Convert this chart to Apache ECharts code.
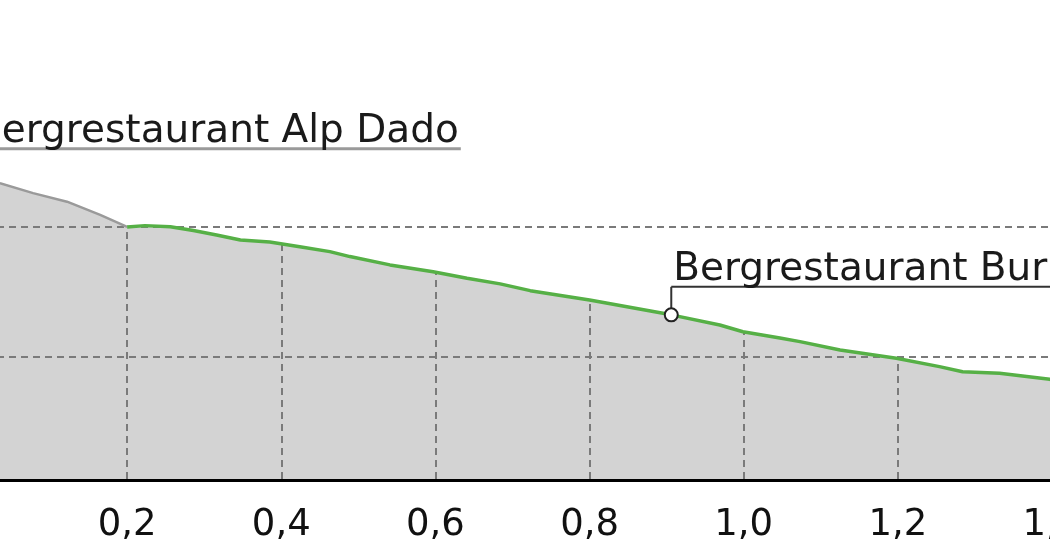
<!DOCTYPE html>
<html>
<head>
<meta charset="utf-8">
<title>Höhenprofil</title>
<script src="https://cdn.jsdelivr.net/npm/echarts@6/dist/echarts.min.js"></script>
<style>
html,body{margin:0;padding:0;background:#fff;}
#chart{width:1050px;height:560px;}
</style>
</head>
<body>
<div id="chart"></div>
<script>
// Distanz in km, Höhe in m
var distKm = [0, 0.035, 0.078, 0.122, 0.165, 0.2, 0.223, 0.256, 0.286, 0.316, 0.347, 0.385, 0.424, 0.463, 0.489, 0.541, 0.597, 0.641, 0.684, 0.723, 0.800, 0.906, 0.969, 0.999, 1.047, 1.073, 1.125, 1.198, 1.254, 1.284, 1.332, 1.397, 1.45];
var elevM  = [2020.4, 2016.8, 2013.0, 2009.7, 2004.6, 2000.0, 2000.5, 2000.1, 1998.6, 1996.9, 1995.0, 1994.2, 1992.4, 1990.5, 1988.6, 1985.4, 1982.8, 1980.3, 1978.1, 1975.5, 1971.9, 1966.2, 1962.3, 1959.7, 1957.3, 1955.9, 1952.7, 1949.5, 1946.3, 1944.3, 1943.7, 1941.4, 1939.5];
var routeStartKm = 0.2;

var poiNames = ['Bergrestaurant Alp Dado', 'Bergrestaurant Burleun'];
var poiDist  = [0, 0.906];
var poiElev  = [2020.4, 1966.2];

var xTicks = [0, 0.2, 0.4, 0.6, 0.8, 1.0, 1.2, 1.4];

var FONT = 'DejaVu Sans';
var GRID_LINE = {color: '#7a7a7a', width: 2, type: [7, 5]};

function pairs(filterFn){
    var out = [];
    for(var i=0;i<distKm.length;i++){
        if(filterFn(distKm[i])){
            out.push([distKm[i], elevM[i]]);
        }
    }
    return out;
}

var chart = echarts.init(document.getElementById('chart'));
var option = {
    animation: false,
    grid: {left: -27, right: -2, top: 100, bottom: 80, outerBoundsMode: 'none', containLabel: false},
    xAxis: {
        type: 'value',
        min: xTicks[0],
        max: xTicks[xTicks.length - 1],
        interval: 0.2,
        z: 1,
        axisLine: {show: true, lineStyle: {color: '#000', width: 3}},
        axisTick: {show: false},
        axisLabel: {
            margin: 27,
            fontFamily: FONT,
            fontSize: 37,
            color: '#111',
            showMinLabel: false,
            formatter: function(v){ return v.toFixed(1).replace('.', ','); }
        },
        splitLine: {show: true, showMinLine: false, showMaxLine: false, lineStyle: GRID_LINE}
    },
    yAxis: {
        type: 'value',
        min: 1902.7,
        max: 2048.8,
        splitNumber: 3,
        z: 3,
        axisLine: {show: false},
        axisTick: {show: false},
        axisLabel: {show: false},
        splitLine: {show: true, showMinLine: false, showMaxLine: false, lineStyle: GRID_LINE}
    },
    series: [
        {
            // graue Fläche unter dem Profil
            type: 'line',
            z: 0,
            data: pairs(function(){ return true; }),
            showSymbol: false,
            lineStyle: {width: 0},
            areaStyle: {color: '#d3d3d3', opacity: 1}
        },
        {
            // weiss über dem Profil, verdeckt die senkrechten Gitterlinien
            type: 'line',
            z: 2,
            data: pairs(function(){ return true; }),
            showSymbol: false,
            lineStyle: {width: 0},
            areaStyle: {color: '#fff', opacity: 1, origin: 'end'}
        },
        {
            type: 'line',
            z: 4,
            data: pairs(function(d){ return d <= routeStartKm; }),
            showSymbol: false,
            lineStyle: {color: '#9a9a9a', width: 2.5}
        },
        {
            type: 'line',
            z: 4,
            data: pairs(function(d){ return d >= routeStartKm; }),
            showSymbol: false,
            lineStyle: {color: '#56b046', width: 3.5}
        },
        {
            type: 'scatter',
            z: 6,
            data: poiDist.map(function(d, i){ return [d, poiElev[i]]; }),
            symbol: 'circle',
            symbolSize: 13,
            itemStyle: {color: '#fff', borderColor: '#222', borderWidth: 2, opacity: 1}
        }
    ]
};
chart.setOption(option);

// Beschriftungen: senkrechter Strich vom Punkt nach oben, dann Text mit Unterstrich
var measureCtx = document.createElement('canvas').getContext('2d');
var labelLift = [25, 28];
var font = '39px "' + FONT + '"';
measureCtx.font = font;
var graphics = [];
for(var i=0;i<poiNames.length;i++){
    var p = chart.convertToPixel({gridIndex: 0}, [poiDist[i], poiElev[i]]);
    var lineY = p[1] - labelLift[i];
    var w = measureCtx.measureText(poiNames[i]).width;
    var inRoute = poiDist[i] >= routeStartKm;
    var col = inRoute ? '#333' : '#9a9a9a';
    graphics.push({
        type: 'line', z: 5,
        shape: {x1: p[0], y1: p[1] - 6, x2: p[0], y2: lineY},
        style: {stroke: col, lineWidth: 2}
    });
    graphics.push({
        type: 'line', z: 5,
        shape: {x1: p[0], y1: lineY, x2: p[0] + w + 4, y2: lineY},
        style: {stroke: col, lineWidth: inRoute ? 2 : 3}
    });
    graphics.push({
        type: 'text', z: 5,
        x: p[0] + 2, y: lineY + 3,
        style: {
            text: poiNames[i],
            font: font,
            fill: '#1a1a1a',
            verticalAlign: 'bottom',
            align: 'left'
        }
    });
}
chart.setOption({graphic: graphics});
</script>
</body>
</html>
